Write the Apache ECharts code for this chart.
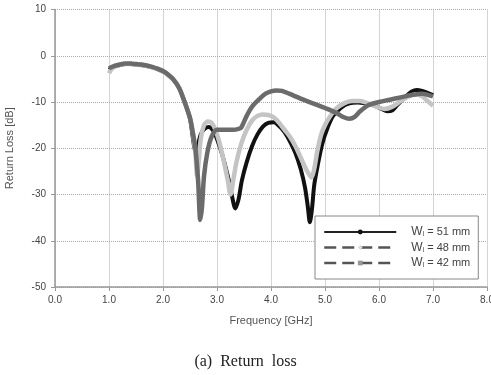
<!DOCTYPE html>
<html>
<head>
<meta charset="utf-8">
<script src="https://cdn.jsdelivr.net/npm/echarts@6/dist/echarts.min.js"></script>
<style>
  html, body { margin: 0; padding: 0; background: #fff; }
  #chart { width: 491px; height: 375px; }
</style>
</head>
<body>
<div id="chart"></div>
<script>
// W = 51 mm (black)
const freq51 = [1.0, 1.1, 1.2, 1.3, 1.4, 1.5, 1.6, 1.7, 1.8, 1.9, 2.0, 2.1, 2.2, 2.3, 2.4, 2.5,
  2.55, 2.6, 2.64, 2.7, 2.77, 2.85, 2.93, 3.0, 3.1, 3.2, 3.28, 3.34, 3.4, 3.46, 3.55, 3.65, 3.75,
  3.85, 3.95, 4.05, 4.15, 4.25, 4.35, 4.45, 4.55, 4.63, 4.68, 4.72, 4.76, 4.8, 4.86, 4.95, 5.05,
  5.15, 5.3, 5.45, 5.6, 5.75, 5.9, 6.05, 6.15, 6.25, 6.35, 6.5, 6.6, 6.7, 6.8, 6.9, 7.0];
const rl51 = [-3.0, -2.3, -2.0, -1.8, -1.8, -1.9, -2.0, -2.2, -2.5, -2.9, -3.4, -4.2, -5.3, -7.0, -10.0, -13.5,
  -17.5, -20.5, -19.5, -17.0, -15.8, -15.4, -16.2, -18.0, -21.5, -26.0, -30.5, -33.0, -31.0, -27.0, -23.0, -19.5, -17.0,
  -15.3, -14.5, -14.4, -15.2, -16.5, -18.5, -21.0, -24.5, -28.5, -32.5, -36.0, -33.0, -28.0, -24.0, -19.0, -15.5,
  -13.0, -11.2, -10.3, -10.1, -10.3, -10.7, -11.5, -12.0, -11.8, -10.5, -8.8, -7.8, -7.4, -7.6, -8.0, -8.5];

// W = 48 mm (light gray)
const freq48 = [1.0, 1.05, 1.1, 1.2, 1.3, 1.4, 1.5, 1.6, 1.7, 1.8, 1.9, 2.0, 2.1, 2.2, 2.3, 2.4, 2.5,
  2.55, 2.6, 2.63, 2.66, 2.7, 2.76, 2.83, 2.9, 2.97, 3.05, 3.12, 3.2, 3.25, 3.3, 3.36, 3.45, 3.55,
  3.65, 3.75, 3.85, 3.95, 4.05, 4.15, 4.25, 4.35, 4.45, 4.55, 4.65, 4.75, 4.8, 4.86, 4.93, 5.0,
  5.1, 5.2, 5.35, 5.5, 5.65, 5.8, 5.95, 6.1, 6.25, 6.4, 6.55, 6.7, 6.8, 6.9, 7.0];
const rl48 = [-3.8, -2.8, -2.4, -2.0, -1.8, -1.8, -1.9, -2.0, -2.2, -2.5, -2.9, -3.4, -4.2, -5.3, -7.0, -10.0, -13.5,
  -16.5, -21.0, -26.0, -23.0, -18.0, -15.0, -14.2, -14.5, -16.0, -19.0, -22.5, -27.0, -30.0, -27.0, -23.0, -19.0, -16.0,
  -14.0, -13.0, -12.7, -12.8, -13.3, -14.5, -16.0, -17.5, -19.5, -22.0, -24.5, -26.3, -24.5, -20.5, -17.0, -15.0,
  -13.0, -11.5, -10.3, -9.8, -9.8, -10.3, -11.0, -11.5, -11.0, -9.8, -8.8, -8.3, -8.8, -9.8, -10.8];

// W = 42 mm (dark gray)
const freq42 = [1.0, 1.1, 1.2, 1.3, 1.4, 1.5, 1.6, 1.7, 1.8, 1.9, 2.0, 2.1, 2.2, 2.3, 2.4, 2.5,
  2.55, 2.6, 2.65, 2.69, 2.72, 2.76, 2.82, 2.9, 3.0, 3.1, 3.2, 3.3, 3.4, 3.45, 3.55, 3.65, 3.8,
  3.9, 4.0, 4.1, 4.2, 4.4, 4.6, 4.8, 5.0, 5.2, 5.35, 5.45, 5.55, 5.65, 5.8, 6.0, 6.2, 6.4, 6.6, 6.8, 7.0];
const rl42 = [-2.7, -2.2, -1.9, -1.7, -1.7, -1.8, -1.9, -2.1, -2.4, -2.8, -3.3, -4.1, -5.2, -7.0, -10.0, -13.5,
  -16.5, -20.0, -27.0, -35.5, -33.0, -26.0, -21.0, -17.5, -16.0, -16.0, -16.0, -16.0, -15.8, -15.5, -13.0, -11.0, -9.2,
  -8.2, -7.7, -7.5, -7.6, -8.5, -9.5, -10.4, -11.3, -12.3, -13.3, -13.6, -13.2, -12.0, -10.7, -10.0, -9.5, -9.0, -8.5, -8.2, -8.8];

const xTicks = [0, 1, 2, 3, 4, 5, 6, 7, 8];
const yTicks = [10, 0, -10, -20, -30, -40, -50];

const names = ['Wl = 51 mm', 'Wl = 48 mm', 'Wl = 42 mm'];

const pairs = (xs, ys) => xs.map((x, i) => [x, ys[i]]);

const chart = echarts.init(document.getElementById('chart'));

const axisText = { color: '#444', fontSize: 10, fontFamily: 'Liberation Sans' };

const option = {
  animation: false,
  grid: { left: 55, right: 4, top: 9.5, bottom: 88, outerBoundsMode: 'none' },
  xAxis: {
    type: 'value',
    min: xTicks[0],
    max: xTicks[xTicks.length - 1],
    interval: 1,
    name: 'Frequency [GHz]',
    nameLocation: 'middle',
    nameGap: 28,
    nameTextStyle: { color: '#555', fontSize: 11, fontFamily: 'Liberation Sans' },
    axisLine: { onZero: false, lineStyle: { color: '#999', width: 1.5 } },
    axisTick: { show: true, length: 4, lineStyle: { color: '#999' } },
    axisLabel: Object.assign({ margin: 8, formatter: v => v.toFixed(1) }, axisText),
    splitLine: { show: true, lineStyle: { type: 'dotted', color: '#aaa', width: 1 } }
  },
  yAxis: {
    type: 'value',
    min: yTicks[yTicks.length - 1],
    max: yTicks[0],
    interval: 10,
    name: 'Return Loss [dB]',
    nameLocation: 'middle',
    nameGap: 40,
    nameTextStyle: { color: '#555', fontSize: 11, fontFamily: 'Liberation Sans' },
    axisLine: { show: true, onZero: false, lineStyle: { color: '#999', width: 1.5 } },
    axisTick: { show: true, length: 4, lineStyle: { color: '#999' } },
    axisLabel: Object.assign({ margin: 9 }, axisText),
    splitLine: { show: true, lineStyle: { type: 'dotted', color: '#aaa', width: 1 } }
  },
  legend: {
    orient: 'vertical',
    left: 315,
    top: 216,
    padding: [10, 8, 10, 8],
    itemGap: 3.5,
    itemWidth: 72,
    itemHeight: 6,
    backgroundColor: '#fff',
    borderColor: '#888',
    borderWidth: 1,
    borderRadius: 0,
    data: [
      { name: names[0], lineStyle: { width: 2, type: 'solid', color: '#222' }, itemStyle: { color: '#111' } },
      { name: names[1], lineStyle: { width: 2.5, type: [12, 6], color: '#555' }, itemStyle: { color: '#ddd' } },
      { name: names[2], lineStyle: { width: 2.5, type: [12, 6], color: '#555' }, itemStyle: { color: '#999' } }
    ],
    formatter: n => '{w|W}{s|l}{t|' + n.slice(2) + '}',
    textStyle: {
      padding: [0, 0, 0, 10],
      color: '#444',
      fontFamily: 'Liberation Sans',
      rich: {
        w: { fontSize: 12, color: '#444', fontFamily: 'Liberation Sans' },
        s: { fontSize: 7, color: '#444', fontFamily: 'Liberation Sans', padding: [5, 0, 0, 0] },
        t: { fontSize: 11, color: '#444', fontFamily: 'Liberation Sans' }
      }
    }
  },
  series: [
    {
      name: names[0], type: 'line', data: pairs(freq51, rl51), smooth: 0.3,
      symbol: 'circle', showSymbol: false,
      lineStyle: { color: '#111', width: 4 }, itemStyle: { color: '#111' }, z: 2
    },
    {
      name: names[1], type: 'line', data: pairs(freq48, rl48), smooth: 0.3,
      symbol: 'diamond', showSymbol: false,
      lineStyle: { color: '#c4c4c4', width: 4.5 }, itemStyle: { color: '#c4c4c4' }, z: 3
    },
    {
      name: names[2], type: 'line', data: pairs(freq42, rl42), smooth: 0.3,
      symbol: 'rect', showSymbol: false,
      lineStyle: { color: '#6b6b6b', width: 4.5 }, itemStyle: { color: '#6b6b6b' }, z: 4
    }
  ],
  graphic: [{
    type: 'text',
    left: 'center',
    top: 354,
    style: { text: '(a)  Return  loss', fontFamily: 'Liberation Serif', fontSize: 16, fill: '#222' }
  }]
};

chart.setOption(option);
</script>
</body>
</html>
